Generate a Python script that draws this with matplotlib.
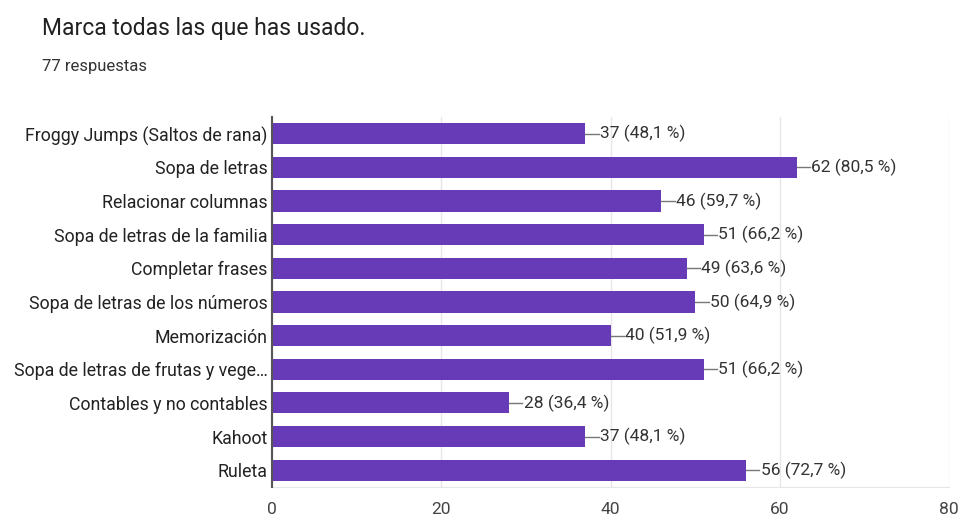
import matplotlib.pyplot as plt
import numpy as np

plt.rcParams['font.family'] = ['Roboto', 'DejaVu Sans']

# Data
categories = [
    "Froggy Jumps (Saltos de rana)",
    "Sopa de letras",
    "Relacionar columnas",
    "Sopa de letras de la familia",
    "Completar frases",
    "Sopa de letras de los números",
    "Memorización",
    "Sopa de letras de frutas y vege…",
    "Contables y no contables",
    "Kahoot",
    "Ruleta",
]
counts = [37, 62, 46, 51, 49, 50, 40, 51, 28, 37, 56]
percents = ["48,1", "80,5", "59,7", "66,2", "63,6", "64,9", "51,9", "66,2", "36,4", "48,1", "72,7"]
xticks = [0, 20, 40, 60, 80]

fig = plt.figure(figsize=(9.66, 5.2), dpi=100)
ax = fig.add_axes([272 / 966, 0.0635, 677 / 966, 0.7115])

y = np.arange(len(categories))
ax.barh(y, counts, height=0.63, color='#673ab7', zorder=3)

# value labels with short connector line
for i, (c, p) in enumerate(zip(counts, percents)):
    ax.plot([c, c + 1.6], [i, i], color='#777777', lw=1, zorder=3)
    ax.text(c + 1.75, i, f"{c} ({p} %)", va='center', ha='left',
            fontsize=12.5, color='#333333')

ax.set_xlim(0, 80)
ax.set_ylim(10.5, -0.5)
ax.set_xticks(xticks)
ax.set_yticks(y)
ax.set_yticklabels(categories)
ax.tick_params(axis='y', length=0, pad=3, labelsize=12.8, labelcolor='#222222')
ax.tick_params(axis='x', length=0, pad=11, labelsize=12.5, labelcolor='#444444')

ax.grid(axis='x', color='#e6e6e6', lw=1, zorder=0)
for s in ['top', 'right']:
    ax.spines[s].set_visible(False)
ax.spines['bottom'].set_color('#e6e6e6')
ax.spines['left'].set_color('#555555')
ax.spines['left'].set_linewidth(1.5)
ax.spines['left'].set_zorder(4)

fig.text(42 / 966, 1 - 28 / 520, "Marca todas las que has usado.",
         fontsize=16.5, color='#212121', va='center', ha='left')
fig.text(42 / 966, 1 - 67 / 520, "77 respuestas",
         fontsize=12, color='#333333', va='center', ha='left')

fig.savefig("out.png", dpi=100)
